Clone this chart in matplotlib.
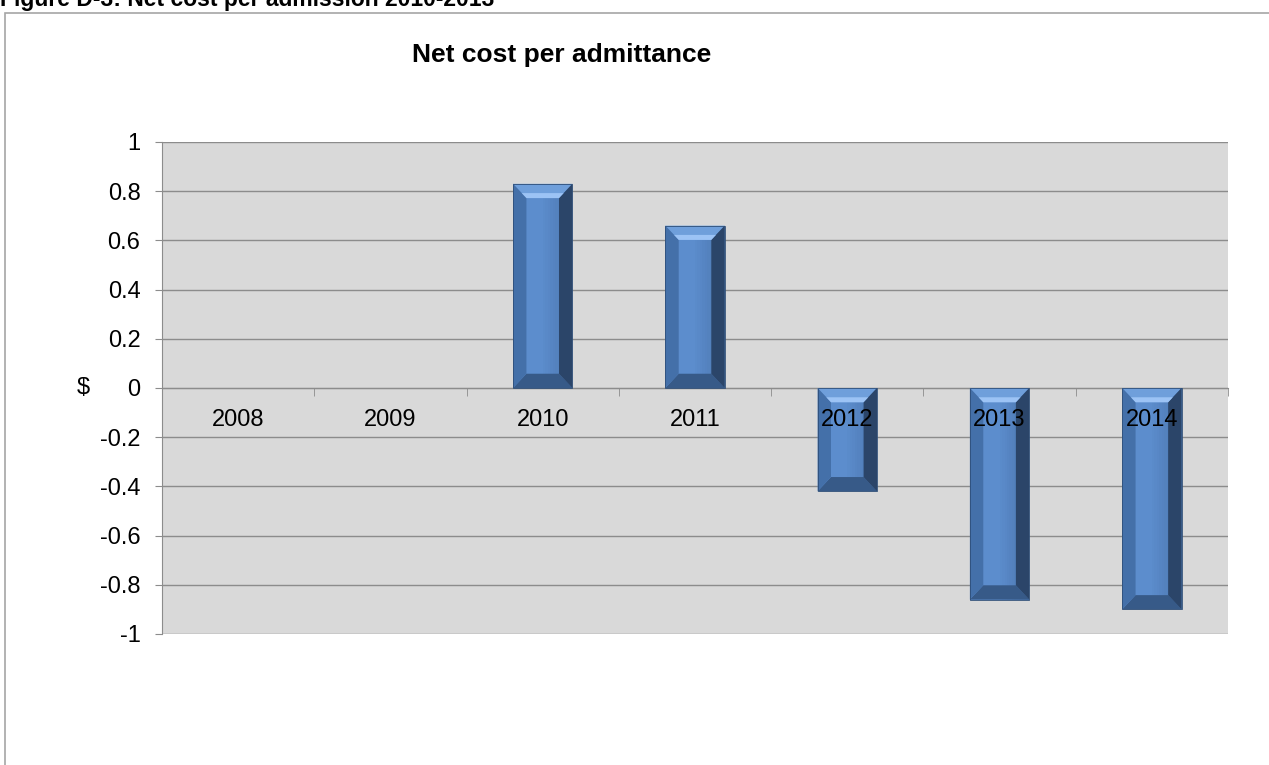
import numpy as np
import matplotlib.pyplot as plt
from matplotlib.patches import Polygon, Rectangle
from matplotlib.transforms import offset_copy

plt.rcParams['font.family'] = ['Liberation Sans', 'DejaVu Sans']

# data
years = ["2008", "2009", "2010", "2011", "2012", "2013", "2014"]
net_cost = [0.0, 0.0, 0.83, 0.66, -0.42, -0.86, -0.90]
y_ticks = [1, 0.8, 0.6, 0.4, 0.2, 0, -0.2, -0.4, -0.6, -0.8, -1]
y_tick_labels = ["1", "0.8", "0.6", "0.4", "0.2", "0", "-0.2", "-0.4", "-0.6", "-0.8", "-1"]

fig = plt.figure(figsize=(12.69, 7.65), dpi=100)
fig.patch.set_facecolor("white")

# frame round the chart, and the caption above it (runs off the top)
fig.patches.append(Rectangle((5 / 1269, -0.01), 1.02, 1 - 13 / 765 + 0.01,
                             transform=fig.transFigure, fill=False,
                             edgecolor="#A6A6A6", linewidth=1.2))
fig.text(0.0, 1 - 6 / 765, "Figure D-3: Net cost per admission 2010-2013",
         fontsize=16.5, fontweight="bold", ha="left", va="baseline")

ax = fig.add_axes([162 / 1269, 1 - 634 / 765, (1228 - 162) / 1269, (634 - 142) / 765])
ax.set_facecolor("#D9D9D9")

x = np.arange(len(years))
width = 0.39
ax.set_xlim(-0.5, len(years) - 0.5)
ax.set_ylim(-1, 1)

ax.set_yticks(y_ticks)
ax.set_yticklabels(y_tick_labels, fontsize=17)
ax.yaxis.grid(True, color="#8C8C8C", linewidth=1.0)
ax.set_axisbelow(True)
ax.tick_params(axis="y", length=5, color="#8C8C8C", pad=10.5)

ax.spines["top"].set_visible(False)
ax.spines["right"].set_visible(False)
ax.spines["left"].set_color("#8C8C8C")
ax.spines["bottom"].set_position(("data", 0))
ax.spines["bottom"].set_color("#8C8C8C")
ax.spines["bottom"].set_zorder(0.6)

ax.set_xticks([])
ax.set_xticks(np.arange(len(years) + 1) - 0.5, minor=True)
ax.tick_params(axis="x", which="minor", length=6, color="#8C8C8C", direction="out")

# bevelled bars
bx = 0.088
by = 0.058
for xi, v in zip(x, net_cost):
    if v == 0:
        continue
    x0, x1 = xi - width / 2, xi + width / 2
    top, bot = max(v, 0), min(v, 0)
    ax.add_patch(Rectangle((x0, bot), width, top - bot, facecolor="#5C8DCD",
                           edgecolor="none", zorder=2))
    # face gets darker towards the right edge
    n = 12
    for k in range(n):
        fx = x0 + width * (0.5 + 0.5 * k / n)
        ax.add_patch(Rectangle((fx, bot), width * 0.5 / n, top - bot,
                               facecolor="#1F3A60", alpha=0.02 + 0.022 * k,
                               edgecolor="none", zorder=2.1))
    ix0, ix1 = x0 + bx, x1 - bx
    itop, ibot = top - by, bot + by
    bevels = [
        ([(x0, top), (x1, top), (ix1, itop), (ix0, itop)], "#6F9FDB"),
        ([(x0, bot), (ix0, ibot), (ix1, ibot), (x1, bot)], "#375A88"),
        ([(x0, top), (ix0, itop), (ix0, ibot), (x0, bot)], "#4470A9"),
        ([(x1, top), (x1, bot), (ix1, ibot), (ix1, itop)], "#2B4569"),
    ]
    for pts, col in bevels:
        ax.add_patch(Polygon(pts, closed=True, facecolor=col, edgecolor="none", zorder=2.2))
    # soft highlight along the inner edge of the top bevel
    hi = by * 0.35
    ax.add_patch(Polygon([(ix0 - bx * 0.35, itop + hi), (ix1 + bx * 0.35, itop + hi),
                          (ix1, itop), (ix0, itop)], closed=True,
                         facecolor="#9CC3F5", edgecolor="none", zorder=2.25))
    ax.add_patch(Rectangle((x0, bot), width, top - bot, fill=False,
                           edgecolor="#2E4E78", linewidth=0.6, zorder=2.3))

# year labels sit just under the zero line, on top of the bars
label_tr = offset_copy(ax.transData, fig=fig, x=0, y=-23, units="points")
for xi, lab in zip(x, years):
    ax.text(xi, 0, lab, transform=label_tr, fontsize=17, ha="center", va="center",
            color="black", zorder=5)

ax.text(-0.068, 0.5, "$", transform=ax.transAxes, fontsize=17, ha="right", va="center")
ax.text(0.375, 1.176, "Net cost per admittance", transform=ax.transAxes,
        fontsize=19, fontweight="bold", ha="center", va="center")

fig.savefig("out.png", dpi=100)
